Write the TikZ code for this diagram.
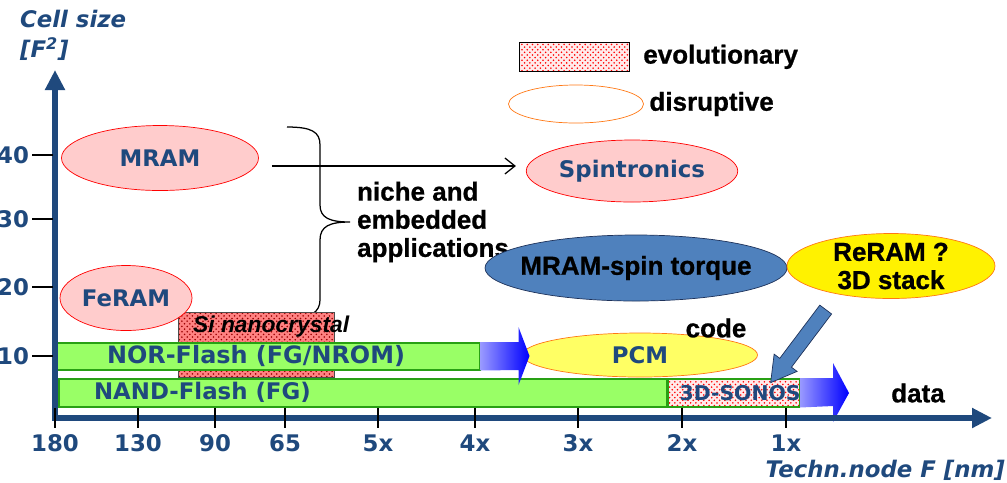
\documentclass[tikz,border=0pt]{standalone}
\usepackage{fontspec}
\usetikzlibrary{shapes,arrows.meta,patterns,positioning,calc}
\newfontfamily\verdfont{DejaVu Sans}[BoldFont={DejaVu Sans Bold}, BoldItalicFont={DejaVu Sans Bold Oblique}]
\newfontfamily\arialfont{Liberation Sans}[BoldFont={Liberation Sans Bold}, BoldItalicFont={Liberation Sans Bold Italic},
  BoldFeatures={FakeBold=0.8}]
\definecolor{axisblue}{RGB}{31,73,125}
\definecolor{rosefill}{RGB}{255,204,204}
\definecolor{barfill}{RGB}{153,255,102}
\definecolor{bardraw}{RGB}{40,160,20}
\definecolor{pcmfill}{RGB}{255,255,100}
\definecolor{rimorange}{RGB}{255,120,20}
\definecolor{spinfill}{RGB}{79,129,189}
\definecolor{spindraw}{RGB}{30,50,90}
\definecolor{nanofill}{RGB}{255,130,130}
\tikzstyle{bluetext} = [font=\verdfont\bfseries\fontsize{13}{15}\selectfont, text=axisblue, inner sep=1pt]
\tikzstyle{blacktext} = [font=\arialfont\bfseries\fontsize{14.8}{16}\selectfont, text=black, inner sep=1pt]
\tikzstyle{axistitle} = [font=\verdfont\bfseries\itshape\fontsize{13}{17}\selectfont, text=axisblue, inner sep=1pt]
\tikzstyle{oldmem} = [ellipse, draw=red, fill=rosefill, inner sep=0pt]
\tikzstyle{newmem} = [ellipse, draw=rimorange, fill=pcmfill, inner sep=0pt]
\tikzstyle{flashbar} = [rectangle, draw=bardraw, fill=barfill, anchor=north west, inner sep=0pt, line width=0.3mm]
\tikzstyle{evobox} = [rectangle, draw=black, preaction={fill=red!8}, pattern=crosshatch dots, pattern color=red, anchor=north west, inner sep=0pt]
\tikzstyle{fadearrow} = [left color=blue!40!white, right color=blue, draw=none]
\tikzstyle{axisline} = [draw=axisblue, line width=1.2mm, {Triangle[length=4mm,width=3.8mm]}-{Triangle[length=4mm,width=3.8mm]}]
\tikzstyle{tickline} = [draw=black, line width=0.22mm]
\tikzstyle{thinarrow} = [-{Straight Barb[length=2mm,width=3.2mm]}, line width=0.25mm]
\tikzstyle{blockarrow} = [single arrow, draw=spindraw, fill=spinfill, inner xsep=0pt, inner ysep=1.4mm,
single arrow head extend=1.4mm, single arrow tip angle=60, minimum width=0pt]

\begin{document}
\begin{tikzpicture}[x=0.2mm, y=-0.2mm]
				\useasboundingbox (0,0) rectangle (1007,482);

				% Legend
				\node (evobox) [evobox, minimum width=22mm, minimum height=5.8mm] at (519,42) {};
				\node (evotext) [blacktext, right=2.3mm of evobox] {evolutionary};
				\node (disbox) [ellipse, draw=rimorange, fill=white, minimum width=27mm, minimum height=7.6mm] at (576,104) {};
				\node (distext) [blacktext, right=0.7mm of disbox] {disruptive};

				% Place memories
				\node (mram) [oldmem, bluetext, minimum width=39.4mm, minimum height=13mm] at (160,158) {MRAM};
				\node (spin) [oldmem, bluetext, minimum width=39.8mm, minimum height=12.4mm] at (632,171) {Spintronics};
				\draw [thinarrow] ($(mram.east)+(13,8)$) -- ($(spin.west)+(-10,-5)$);

				% Brace
				\draw [line width=0.25mm] (287,127) .. controls (312,127) and (320,132) .. (320,145) -- (320,205)
					.. controls (320,218) and (330,222) .. (350,222) .. controls (330,222) and (320,226) .. (320,240)
					-- (320,300) .. controls (320,312) and (310,318) .. (295,318);
				\node (niche) [blacktext, align=left, anchor=west] at (355,222) {niche and\\embedded\\applications};

				\node (torque) [ellipse, draw=spindraw, fill=spinfill, minimum width=60.4mm, minimum height=13.2mm,
					label={[blacktext]center:MRAM-spin torque}] at (636,268) {};
				\node (reram) [ellipse, draw=rimorange, fill=yellow, minimum width=41.6mm, minimum height=13mm,
					label={[blacktext, align=center]center:ReRAM ?\\3D stack}] at (891,266) {};

				\node (sibox) [evobox, preaction={fill=nanofill}, pattern color=red!60!black, draw=black!70,
					minimum width=31.2mm, minimum height=13mm] at (178,312) {};
				\node (sitext) [blacktext, font=\arialfont\bfseries\itshape\fontsize{13}{15}\selectfont, anchor=west]
					at ($(sibox.north west)+(13,15)$) {Si nanocrystal};
				\node (feram) [oldmem, bluetext, minimum width=26.4mm, minimum height=13mm] at (126,298) {FeRAM};

				% Flash bars
				\node (nor) [flashbar, minimum width=84.6mm, minimum height=5.4mm] at (56,342) {};
				\node (nortext) [bluetext, font=\verdfont\bfseries\fontsize{13.6}{15}\selectfont, right=9.8mm of nor.west] {NOR-Flash (FG/NROM)};
				\node (nand) [flashbar, minimum width=121.6mm, minimum height=5.6mm] at (58,378) {};
				\node (nandtext) [bluetext, right=6.8mm of nand.west] {NAND-Flash (FG)};
				\node (sonos) [evobox, draw=bardraw, line width=0.3mm, minimum width=26.2mm, minimum height=5.6mm,
					anchor=west] at (nand.east) {};
				\node (sonostext) [bluetext, font=\verdfont\bfseries\fontsize{11.6}{14}\selectfont, right=2mm of sonos.west] {3D-SONOS};
				\node (pcm) [newmem, bluetext, minimum width=47mm, minimum height=8.8mm] at (640,355) {PCM};

				% Draw arrows
				\draw [fadearrow] (nor.north east) -- ++(38,0) -- ++(0,-15) -- ++(11,29) -- ++(-11,29)
					-- ++(0,-15) -- (nor.south east) -- cycle;
				\draw [fadearrow] (sonos.north east) -- ++(33,0) -- ++(0,-15) -- ++(16,30) -- ++(-16,29)
					-- ++(0,-16) -- (sonos.south east) -- cycle;
				\node (code) [blacktext] at (716,328) {code};
				\node (data) [blacktext] at (918,393) {data};

				% Axes
				\coordinate (ytip) at (55,70);
				\coordinate (xtip) at (992,418);
				\draw [axisline] (ytip) |- (xtip);
				\foreach \ypos/\lab in {155/40,219/30,287/20,356/10} {
					\draw [tickline] (32,\ypos) -- (53,\ypos);
					\node (y\lab) [bluetext, anchor=east] at (31,\ypos) {\lab};
				}
				\foreach \xpos/\lab in {55/180,138/130,215/90,285/65,378/5x,475/4x,578/3x,682/2x,786/1x} {
					\draw [tickline] (\xpos,408) -- (\xpos,428);
					\node (x\lab) [bluetext] at (\xpos,443) {\lab};
				}
				\node (ytitle) [axistitle, align=left, anchor=west] at (18,35) {Cell size\\{[}F\textsuperscript{2}{]}};
				\node (xtitle) [axistitle, anchor=east] at (1007,470) {Techn.node F [nm]};

				\node (stackarrow) [blockarrow, rotate=233, minimum height=18.3mm] at (802,341) {};

			\end{tikzpicture}
\end{document}
